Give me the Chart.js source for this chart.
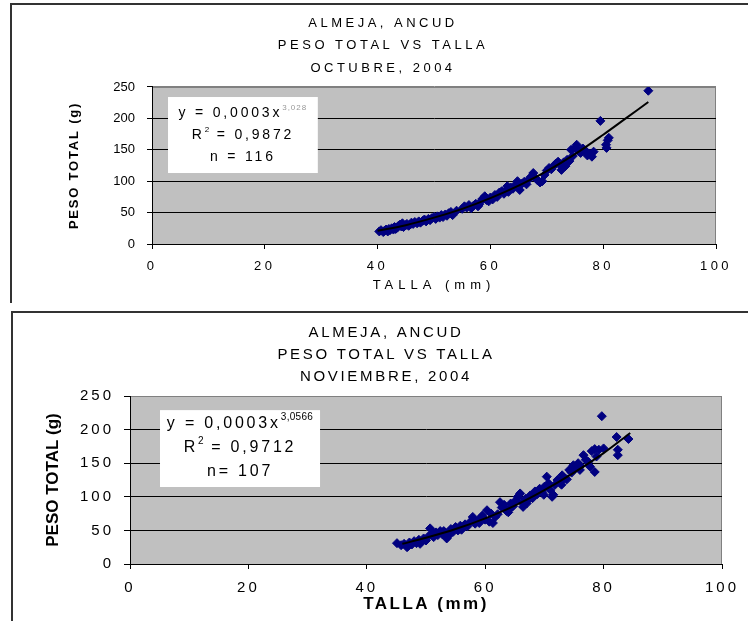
<!DOCTYPE html>
<html>
<head>
<meta charset="utf-8">
<title>Almeja, Ancud - peso total vs talla</title>
<script src="https://cdn.jsdelivr.net/npm/chart.js@4.4.1/dist/chart.umd.min.js"></script>
<style>
  html, body { margin: 0; padding: 0; background: #fff; overflow: hidden; }
  body { width: 748px; height: 621px; position: relative; }
  .frame { position: absolute; border-top: 2px solid #333; border-left: 2px solid #333; }
  canvas { position: absolute; left: 0; }
</style>
</head>
<body>
<div class="frame" style="left:10px;top:3px;width:760px;height:298px"></div>
<div class="frame" style="left:11px;top:311px;width:760px;height:320px"></div>
<canvas id="chartOct" width="748" height="305" style="top:0"></canvas>
<canvas id="chartNov" width="748" height="316" style="top:305px"></canvas>
<script>
// octubre 2004, n = 116
var tallaOct = [40.3, 40.6, 41.0, 41.2, 41.5, 41.8, 42.0, 42.2, 42.5, 42.8,
    43.0, 43.2, 43.5, 43.7, 44.0, 44.2, 44.4, 44.6, 45.0, 45.2,
    45.5, 45.8, 46.0, 46.3, 46.6, 47.0, 47.3, 47.6, 48.0, 48.3,
    48.6, 49.0, 49.3, 49.6, 50.0, 50.3, 50.6, 51.0, 51.3, 51.6,
    52.0, 52.3, 52.6, 53.0, 53.3, 54.0, 55.0, 55.4, 55.8, 56.2,
    56.6, 57.0, 57.4, 57.8, 58.2, 58.6, 59.0, 59.3, 59.7, 60.0,
    60.4, 60.8, 61.2, 61.6, 62.0, 62.4, 62.8, 63.2, 63.6, 64.0,
    64.4, 64.8, 65.2, 65.6, 66.0, 66.4, 66.8, 67.2, 67.6, 68.0,
    68.4, 68.8, 69.2, 69.6, 70.0, 70.4, 70.8, 71.2, 71.6, 72.0,
    72.3, 72.6, 73.0, 73.3, 73.6, 74.0, 74.3, 74.6, 75.0, 75.3,
    75.6, 76.0, 76.4, 76.8, 77.2, 77.6, 78.0, 78.3, 79.5, 80.5,
    80.8, 81.0, 80.6, 88.0, 63.0, 58.0];
var pesoOct = [20, 22, 19, 21, 23, 20, 24, 22, 25, 23,
    27, 24, 26, 29, 31, 28, 33, 27, 30, 32,
    29, 31, 34, 32, 35, 33, 36, 34, 37, 39,
    36, 40, 38, 41, 43, 40, 44, 42, 46, 43,
    47, 45, 49, 51, 46, 53, 56, 60, 58, 62,
    57, 61, 64, 60, 67, 72, 76, 70, 68, 74,
    71, 78, 75, 82, 84, 80, 86, 83, 90, 88,
    94, 100, 86, 96, 99, 95, 103, 107, 113, 105,
    101, 98, 100, 110, 117, 121, 119, 124, 128, 131,
    126, 118, 130, 124, 134, 132, 150, 140, 153, 158,
    148, 145, 152, 149, 141, 144, 139, 147, 196, 158,
    165, 169, 153, 244, 92, 63];
var trendOctX = [40, 45, 50, 55, 60, 65, 70, 75, 80, 84, 88];
var trendOctY = [21, 30, 42, 56, 73, 93, 116, 143, 174, 200, 226];

// noviembre 2004, n = 107
var tallaNov = [45.1, 45.8, 46.3, 46.8, 47.2, 47.6, 48.0, 48.4, 48.8, 49.2,
    49.6, 50.0, 50.4, 50.7, 51.0, 51.3, 51.7, 52.0, 52.4, 52.8,
    53.2, 53.5, 53.8, 54.2, 54.6, 55.0, 55.4, 55.8, 56.2, 56.6,
    57.0, 57.4, 57.9, 58.3, 58.7, 59.1, 59.5, 60.0, 60.3, 60.7,
    61.0, 61.3, 61.7, 62.1, 62.5, 62.8, 63.2, 63.6, 64.0, 64.3,
    64.7, 65.1, 65.5, 65.9, 66.2, 66.4, 66.8, 67.2, 67.6, 68.0,
    68.4, 68.8, 69.2, 69.6, 70.0, 70.4, 70.7, 71.0, 71.3, 71.5,
    71.8, 72.2, 72.6, 72.9, 73.0, 73.4, 73.8, 74.2, 74.6, 74.9,
    75.3, 75.7, 76.1, 76.6, 77.0, 77.4, 77.7, 78.0, 78.5, 78.5,
    78.8, 79.2, 79.7, 80.0, 82.2, 82.4, 82.4, 84.2, 47.0, 49.0,
    53.0, 56.0, 59.0, 63.9, 67.0, 69.9, 76.0];
var pesoNov = [31, 28, 30, 25, 32, 29, 34, 31, 36, 33,
    38, 35, 41, 53, 45, 40, 47, 43, 49, 44,
    47, 38, 42, 52, 48, 55, 50, 57, 54, 59,
    56, 62, 70, 60, 64, 67, 72, 66, 80, 63,
    75, 61, 70, 74, 92, 84, 88, 79, 81, 90,
    86, 94, 100, 105, 92, 85, 97, 95, 102, 98,
    108, 104, 112, 107, 115, 130, 120, 110, 100, 103,
    118, 125, 121, 118, 132, 128, 126, 140, 136, 147,
    143, 150, 146, 162, 155, 152, 145, 168, 171, 137,
    160, 170, 220, 172, 189, 170, 162, 186, 27, 30,
    49, 51, 61, 77, 90, 103, 140];
var trendNovX = [46, 50, 55, 60, 65, 70, 75, 80, 84.5];
var trendNovY = [30, 39, 52, 68, 87, 110, 136, 165, 195];

var xTicks = [0, 20, 40, 60, 80, 100];
var yTicks = [0, 50, 100, 150, 200, 250];

var FONT = '"Liberation Sans", Arial, sans-serif';
Chart.defaults.font.family = FONT;
Chart.defaults.color = '#000';

function toPoints(xs, ys) {
    return xs.map(function (x, i) { return { x: x, y: ys[i] }; });
}

// canvas letterSpacing on the pieces of text the old excel picture stretches
function withSpacing(obj, fnName, px) {
    if (!obj || !px || obj['_ls_' + fnName]) return;
    var orig = obj[fnName];
    obj['_ls_' + fnName] = true;
    obj[fnName] = function () {
        var ctx = this.ctx;
        ctx.save();
        ctx.letterSpacing = px + 'px';
        var out = orig.apply(this, arguments);
        ctx.restore();
        return out;
    };
}

var spacingPlugin = {
    id: 'spacing',
    beforeDraw: function (chart, args, o) {
        withSpacing(chart.titleBlock, 'draw', o.title);
        withSpacing(chart.scales.x, 'drawLabels', o.xTicks);
        withSpacing(chart.scales.x, 'drawTitle', o.xTitle);
        withSpacing(chart.scales.y, 'drawLabels', o.yTicks);
        withSpacing(chart.scales.y, 'drawTitle', o.yTitle);
    }
};

var plotBg = {
    id: 'plotBg',
    beforeDraw: function (chart) {
        var a = chart.chartArea, ctx = chart.ctx;
        ctx.save();
        ctx.fillStyle = '#c0c0c0';
        ctx.fillRect(a.left, a.top, a.right - a.left, a.bottom - a.top);
        ctx.strokeStyle = '#808080';
        ctx.lineWidth = 1;
        ctx.strokeRect(Math.round(a.left) + 0.5, Math.round(a.top) + 0.5,
            Math.round(a.right - a.left) - 1, Math.round(a.bottom - a.top));
        ctx.restore();
    }
};

// white box with the fitted equation
var fitBox = {
    id: 'fitBox',
    afterDatasetsDraw: function (chart, args, o) {
        var sx = chart.scales.x, sy = chart.scales.y, ctx = chart.ctx;
        var l = sx.getPixelForValue(o.x0), r = sx.getPixelForValue(o.x1);
        var t = sy.getPixelForValue(o.y0), b = sy.getPixelForValue(o.y1);
        ctx.save();
        ctx.fillStyle = '#fff';
        ctx.fillRect(l, t, r - l, b - t);
        ctx.textBaseline = 'middle';
        ctx.textAlign = 'left';
        var cx = (l + r) / 2;
        function setSeg(seg) {
            ctx.font = (seg.sup ? o.supSize : o.size) + 'px ' + FONT;
            ctx.letterSpacing = (seg.sup ? o.supSpacing : o.spacing) + 'px';
        }
        o.lines.forEach(function (line, i) {
            var ly = t + o.first + i * o.step;
            var w = 0;
            line.forEach(function (seg) {
                setSeg(seg);
                w += ctx.measureText(seg.t).width;
            });
            var px = cx - w / 2;
            line.forEach(function (seg) {
                setSeg(seg);
                ctx.fillStyle = seg.color || '#000';
                ctx.fillText(seg.t, px, seg.sup ? ly - o.size * 0.38 : ly);
                px += ctx.measureText(seg.t).width;
            });
        });
        ctx.restore();
    }
};

function makeChart(id, s) {
    var ctx = document.getElementById(id).getContext('2d');
    return new Chart(ctx, {
        type: 'scatter',
        data: {
            datasets: [{
                type: 'line',
                data: toPoints(s.trendX, s.trendY),
                borderColor: '#000',
                borderWidth: 2,
                pointRadius: 0,
                fill: false,
                cubicInterpolationMode: 'monotone',
                order: 0
            }, {
                data: toPoints(s.talla, s.peso),
                backgroundColor: '#000080',
                borderColor: '#000080',
                borderWidth: 1,
                pointStyle: 'rectRot',
                pointRadius: 4.5,
                order: 1
            }]
        },
        options: {
            responsive: false,
            animation: false,
            events: [],
            layout: { padding: { left: 50, right: s.padRight, top: 0, bottom: 0 } },
            plugins: {
                legend: { display: false },
                tooltip: { enabled: false },
                title: {
                    display: true,
                    text: s.title,
                    color: '#000',
                    font: { size: s.titleSize, weight: 'normal', lineHeight: s.titleLine },
                    padding: { top: s.titlePadTop, bottom: s.titlePadBottom }
                },
                spacing: s.spacing,
                fitBox: s.box
            },
            scales: {
                x: {
                    type: 'linear',
                    min: 0,
                    max: 100,
                    afterFit: function (scale) { scale.height = s.xHeight; },
                    afterBuildTicks: function (scale) {
                        scale.ticks = xTicks.map(function (v) { return { value: v }; });
                    },
                    ticks: { font: { size: s.tickSize }, padding: s.xTickPad, color: '#000' },
                    grid: { drawOnChartArea: false, drawTicks: true, tickLength: 5, tickColor: '#000' },
                    border: { display: true, color: '#000', width: 1 },
                    title: {
                        display: true,
                        text: s.xTitle,
                        color: '#000',
                        font: s.xTitleFont,
                        padding: { top: 0, bottom: s.xTitlePad }
                    }
                },
                y: {
                    type: 'linear',
                    min: 0,
                    max: 250,
                    afterFit: function (scale) { scale.width = s.yWidth; },
                    afterBuildTicks: function (scale) {
                        scale.ticks = yTicks.map(function (v) { return { value: v }; });
                    },
                    ticks: { font: { size: s.tickSize }, padding: s.yTickPad, color: '#000' },
                    grid: {
                        color: function (c) { return c.tick && c.tick.value === 250 ? '#808080' : '#000'; },
                        tickColor: '#000',
                        tickLength: s.yTickLen,
                        lineWidth: 1
                    },
                    border: { display: true, color: '#000', width: 1 },
                    title: {
                        display: true,
                        text: 'PESO TOTAL (g)',
                        color: '#000',
                        font: s.yTitleFont,
                        padding: { top: s.yTitlePad, bottom: 0 }
                    }
                }
            }
        },
        plugins: [plotBg, spacingPlugin, fitBox]
    });
}

makeChart('chartOct', {
    talla: tallaOct, peso: pesoOct, trendX: trendOctX, trendY: trendOctY,
    title: ['ALMEJA, ANCUD', 'PESO TOTAL VS TALLA', 'OCTUBRE, 2004'],
    titleSize: 13, titleLine: 1.73, titlePadTop: 11.75, titlePadBottom: 7.75,
    padRight: 32, yWidth: 102, xHeight: 61,
    tickSize: 13, xTickPad: 10, yTickPad: 12, yTickLen: 5,
    xTitle: 'TALLA (mm)', xTitleFont: { size: 13, weight: 'normal' }, xTitlePad: 12,
    yTitleFont: { size: 13, weight: 'bold' }, yTitlePad: 17,
    spacing: { title: 3.5, xTicks: 3.5, xTitle: 5, yTicks: 0, yTitle: 1.8 },
    box: {
        x0: 2.84, x1: 29.4, y0: 234, y1: 113,
        first: 16, step: 22, size: 14, supSize: 8, spacing: 2.8, supSpacing: 1,
        lines: [
            [{ t: 'y = 0,0003x' }, { t: '3,028', sup: true, color: '#999' }],
            [{ t: 'R' }, { t: '2', sup: true }, { t: ' = 0,9872' }],
            [{ t: 'n = 116' }]
        ]
    }
});

makeChart('chartNov', {
    talla: tallaNov, peso: pesoNov, trendX: trendNovX, trendY: trendNovY,
    title: ['ALMEJA, ANCUD', 'PESO TOTAL VS TALLA', 'NOVIEMBRE, 2004'],
    titleSize: 15, titleLine: 1.467, titlePadTop: 17, titlePadBottom: 8,
    padRight: 26, yWidth: 80, xHeight: 57,
    tickSize: 15, xTickPad: 10, yTickPad: 10, yTickLen: 6,
    xTitle: 'TALLA (mm)', xTitleFont: { size: 17, weight: 'bold' }, xTitlePad: 6,
    yTitleFont: { size: 17, weight: 'bold' }, yTitlePad: -7,
    spacing: { title: 2.7, xTicks: 3, xTitle: 2.5, yTicks: 3, yTitle: 0 },
    box: {
        x0: 5.07, x1: 32.1, y0: 229, y1: 114.6,
        first: 13, step: 24, size: 16, supSize: 10, spacing: 2.8, supSpacing: 0.3,
        lines: [
            [{ t: 'y = 0,0003x' }, { t: '3,0566', sup: true }],
            [{ t: 'R' }, { t: '2', sup: true }, { t: ' = 0,9712' }],
            [{ t: 'n= 107' }]
        ]
    }
});
</script>
</body>
</html>
